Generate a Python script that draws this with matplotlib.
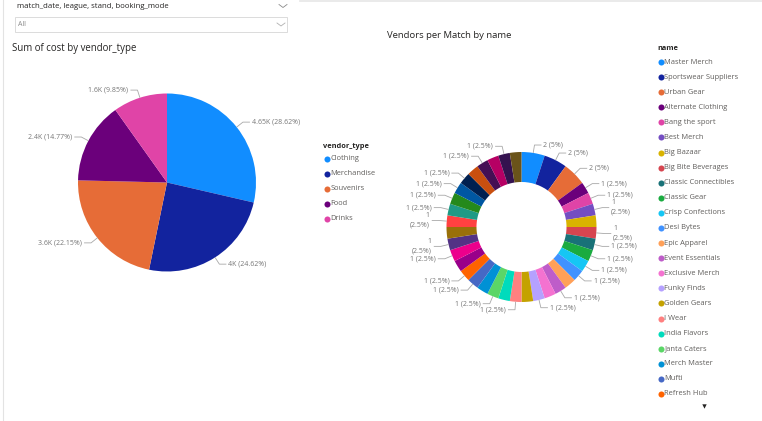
import matplotlib
matplotlib.use('Agg')
import matplotlib.pyplot as plt
import numpy as np

W, H = 762, 421
plt.rcParams['font.family'] = ['Open Sans', 'DejaVu Sans']

# ---------------- data ----------------
vendor_types = ['Clothing', 'Merchandise', 'Souvenirs', 'Food', 'Drinks']
cost_k = [4.65, 4.0, 3.6, 2.4, 1.6]

vendor_names = ['Master Merch', 'Sportswear Suppliers', 'Urban Gear', 'Alternate Clothing',
                'Bang the sport', 'Best Merch', 'Big Bazaar', 'Big Bite Beverages',
                'Classic Connectibles', 'Classic Gear', 'Crisp Confections', 'Desi Bytes',
                'Epic Apparel', 'Event Essentials', 'Exclusive Merch', 'Funky Finds',
                'Golden Gears', 'I Wear', 'India Flavors', 'Janta Caters', 'Merch Master',
                'Mufti', 'Refresh Hub', 'Royal Refreshments', 'Sip & Snack', 'Snack Attack',
                'Spice Route', 'Sports Hub', 'Stadium Eats', 'Street Bites', 'Style Street',
                'Team Gear', 'The Fan Store', 'Thirst Quenchers', 'Trendy Tees',
                'Victory Wear', 'Zest Drinks']
vendor_counts = [2, 2, 2] + [1] * 34

# which donut labels Power BI displays (others hidden due to overlap)
shown_labels = [0, 1, 2, 3, 4, 5, 7, 8, 9, 10, 11, 13, 15, 17,
                19, 21, 22, 24, 25, 27, 28, 29, 30, 31, 33, 35]
wrapped_labels = [5, 7, 25, 27]
legend_visible = 23

pbi = ['#118DFF', '#12239E', '#E66C37', '#6B007B', '#E044A7', '#744EC2', '#D9B300',
       '#D64550', '#197278', '#1AAB40', '#15C6F4', '#4092FF', '#FFA058', '#BE5DC9',
       '#F472D0', '#B5A1FF', '#C4A200', '#FF8080', '#00DBBC', '#5BD667', '#0091D5',
       '#4668C5', '#FF6300', '#99008A', '#EC008C', '#533285', '#99700A', '#FF4141',
       '#1F9A85', '#25891C', '#0057A2', '#002050', '#C94F0F', '#450F54', '#B60064',
       '#34124F', '#6A531A']

TITLE_C = '#252423'
TEXT_C = '#605E5C'
LABEL_C = '#777777'
LINE_C = '#A8A8A8'

fig = plt.figure(figsize=(W / 100, H / 100), dpi=100)
ax = fig.add_axes([0, 0, 1, 1])


def Y(y):
    return H - y


# ---------------- left pie ----------------
total_cost = sum(cost_k)
pc = (167, Y(182.5))
pr = 89
wedges, _ = ax.pie(cost_k, colors=pbi[:5], startangle=90, counterclock=False,
                   center=pc, radius=pr, frame=True,
                   wedgeprops=dict(linewidth=0))


def add_label(w, center, r, text, gap=8, hseg=7, fs=5):
    mid = np.deg2rad((w.theta1 + w.theta2) / 2)
    c, s = np.cos(mid), np.sin(mid)
    ex, ey = center[0] + r * c, center[1] + r * s
    bx, by = center[0] + (r + gap) * c, center[1] + (r + gap) * s
    side = 1 if c >= 0 else -1
    hx = bx + side * hseg
    ax.plot([ex, bx, hx], [ey, by, by], color=LINE_C, lw=0.6, solid_capstyle='butt')
    ax.text(hx + side * 2, by, text, ha='left' if side > 0 else 'right', va='center',
            fontsize=fs, color=LABEL_C, linespacing=1.5)


for w, v in zip(wedges, cost_k):
    add_label(w, pc, pr, f"{v:g}K ({v / total_cost * 100:.2f}%)", gap=8, hseg=7, fs=5)

ax.text(12, Y(49), 'Sum of cost by vendor_type', fontsize=6.9, color=TITLE_C,
        ha='left', va='center')

# legend vendor_type
ax.text(323, Y(146), 'vendor_type', fontsize=5.3, color=TITLE_C, fontweight='bold',
        ha='left', va='center')
for i, (name, col) in enumerate(zip(vendor_types, pbi)):
    yy = Y(158.5 + i * 15)
    ax.scatter([326.5], [yy], s=19, color=col, linewidths=0)
    ax.text(330.5, yy, name, fontsize=5.4, color=TEXT_C, ha='left', va='center')

# ---------------- donut ----------------
total_cnt = sum(vendor_counts)
dc = (521.5, Y(227))
dr = 75
dw, _ = ax.pie(vendor_counts, colors=pbi[:len(vendor_counts)], startangle=90,
               counterclock=False, center=dc, radius=dr, frame=True,
               wedgeprops=dict(width=dr * 0.4, linewidth=0))
for i in shown_labels:
    c = vendor_counts[i]
    pct = f"{c / total_cnt * 100:g}%"
    txt = f"{c}\n({pct})" if i in wrapped_labels else f"{c} ({pct})"
    add_label(dw[i], dc, dr, txt, gap=8, hseg=7, fs=5)

ax.text(449, Y(36), 'Vendors per Match by name', fontsize=6.8, color=TITLE_C,
        ha='center', va='center')

# legend name
ax.text(657, Y(49), 'name', fontsize=5.3, color=TITLE_C, fontweight='bold',
        ha='left', va='center')
for i in range(legend_visible):
    yy = Y(62 + i * 15.09)
    ax.scatter([660.5], [yy], s=19, color=pbi[i], linewidths=0)
    ax.text(664.5, yy, vendor_names[i], fontsize=5.4, color=TEXT_C, ha='left', va='center')
ax.scatter([704], [Y(405.5)], marker='v', s=10, color='#252423', linewidths=0)

# ---------------- slicer header ----------------
ax.text(17, Y(7), 'match_date, league, stand, booking_mode', fontsize=5.6,
        color=TITLE_C, ha='left', va='center')
box = plt.Rectangle((15, Y(32)), 272, 15, facecolor='white', edgecolor='#D6D6D6', lw=0.6)
ax.add_patch(box)
ax.text(18, Y(25), 'All', fontsize=5, color='#8A8A8A', ha='left', va='center')
for (cx, cy, col) in [(283, 6, '#8A8A8A'), (281, 24.5, '#B0B0B0')]:
    ax.plot([cx - 4, cx, cx + 4], [Y(cy - 1.5), Y(cy + 1.5), Y(cy - 1.5)],
            color=col, lw=0.6)

# frame lines
ax.plot([3, 3], [0, H], color='#E3E3E3', lw=0.8)
ax.plot([300, W], [Y(1), Y(1)], color='#E6E6E6', lw=1.2)

ax.set_xlim(0, W)
ax.set_ylim(0, H)
ax.set_aspect('auto')
ax.axis('off')

fig.savefig('out.png', dpi=100, facecolor='white')
